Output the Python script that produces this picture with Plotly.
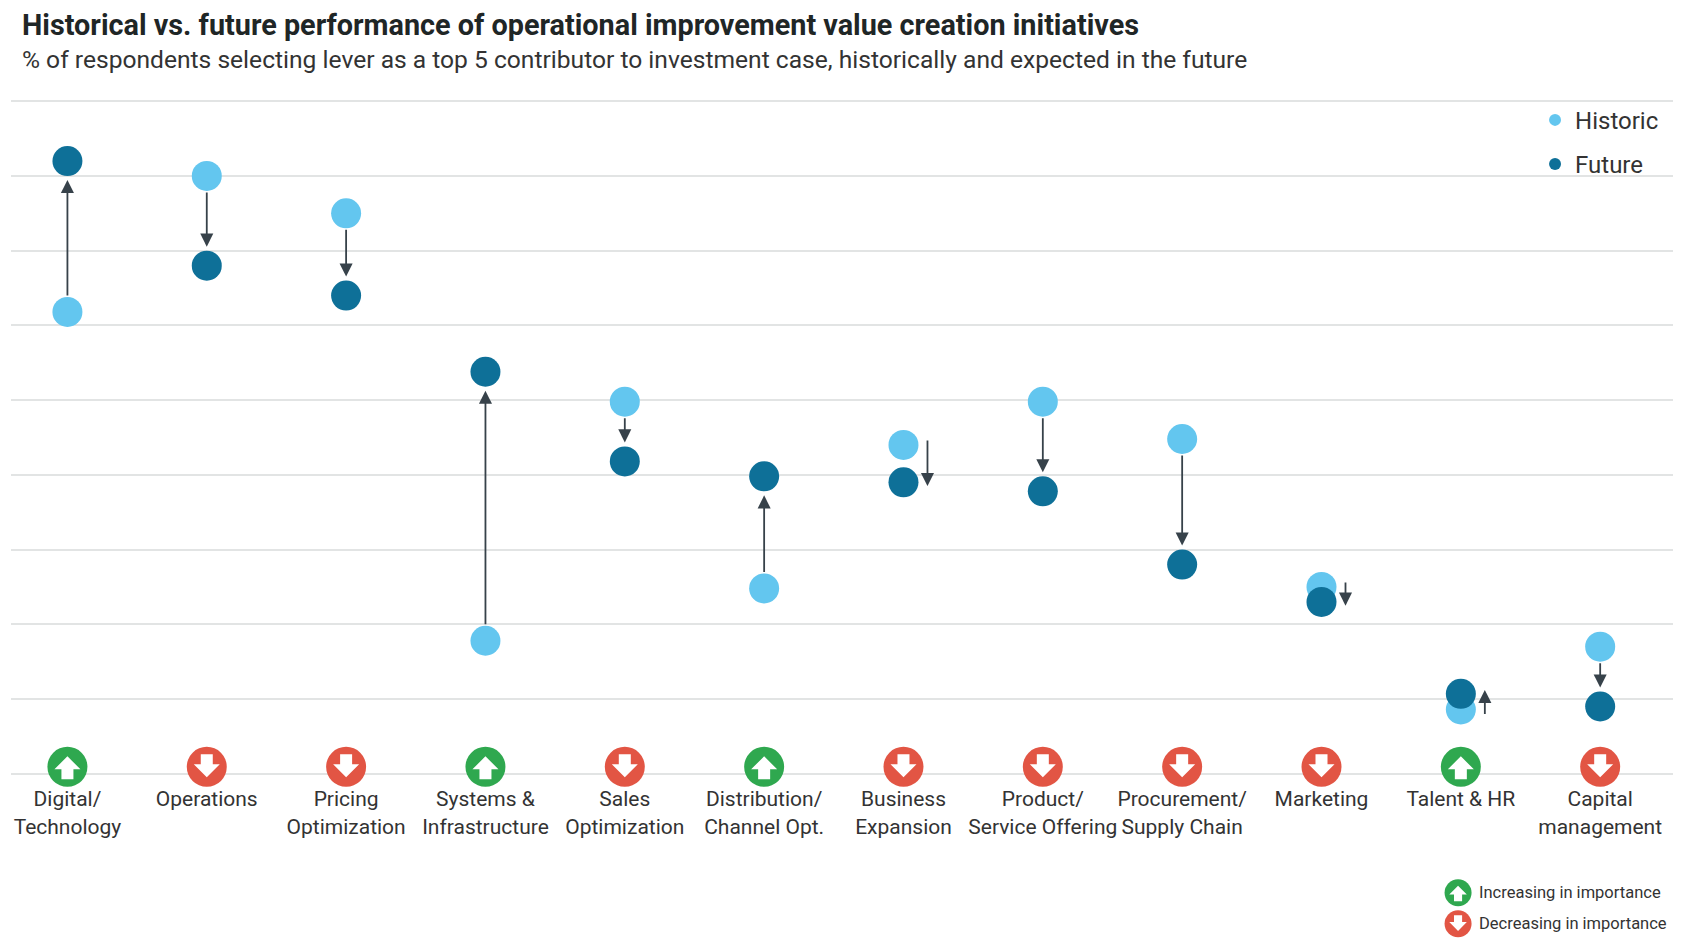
import plotly.graph_objects as go

# data
levers = ['Digital/Technology', 'Operations', 'Pricing Optimization', 'Systems & Infrastructure',
          'Sales Optimization', 'Distribution/Channel Opt.', 'Business Expansion',
          'Product/Service Offering', 'Procurement/Supply Chain', 'Marketing', 'Talent & HR',
          'Capital management']
lever_labels = ['Digital/<br>Technology', 'Operations', 'Pricing<br>Optimization',
                'Systems &<br>Infrastructure', 'Sales<br>Optimization', 'Distribution/<br>Channel Opt.',
                'Business<br>Expansion', 'Product/<br>Service Offering', 'Procurement/<br>Supply Chain',
                'Marketing', 'Talent & HR', 'Capital<br>management']
historic = [30.9, 40.0, 37.5, 8.9, 24.9, 12.4, 22.0, 24.9, 22.4, 12.5, 4.3, 8.5]
future = [41.0, 34.0, 32.0, 26.9, 20.9, 19.9, 19.5, 18.9, 14.0, 11.5, 5.35, 4.5]

LIGHT = '#63c6ef'
DARK = '#0e7098'
ARROW = '#37424a'
GREEN = '#2fa84f'
RED = '#e25544'
FONT = 'Roboto'

fig = go.Figure()
fig.add_trace(go.Scatter(x=levers, y=historic, mode='markers', name='Historic',
                         marker=dict(size=30, color=LIGHT), cliponaxis=False,
                         legendgroup='h'))
fig.add_trace(go.Scatter(x=levers, y=future, mode='markers', name='Future',
                         marker=dict(size=30, color=DARK), cliponaxis=False,
                         legendgroup='f'))


def arrow_path(scale, cy, up):
    # block arrow glyph in pixels around icon centre (positive = up)
    s = 1 if up else -1
    pts = [(0, 10.5 * s), (13, -2.5 * s), (6, -2.5 * s), (6, -12.5 * s),
           (-6, -12.5 * s), (-6, -2.5 * s), (-13, -2.5 * s)]
    return 'M' + 'L'.join('%.2f,%.2f' % (x * scale, cy + y * scale) for x, y in pts) + 'Z'


shapes = []
annotations = []
for lev, h, f in zip(levers, historic, future):
    up = f > h
    col = GREEN if up else RED
    # icon under each lever (paper y so it is not clipped at the bottom)
    shapes.append(dict(type='circle', xref='x', yref='paper', xsizemode='pixel', ysizemode='pixel',
                       xanchor=lev, yanchor=0, x0=-20, x1=20, y0=-10.8, y1=29.2,
                       fillcolor=col, line_width=0, layer='above'))
    shapes.append(dict(type='path', xref='x', yref='paper', xsizemode='pixel', ysizemode='pixel',
                       xanchor=lev, yanchor=0, path=arrow_path(1, 9.2, up),
                       fillcolor='white', line_width=0, layer='above'))
    # arrow historic -> future
    s = 1 if up else -1
    if abs(f - h) < 3:
        annotations.append(dict(x=lev, y=f + s * 0.25, ax=lev, ay=h - s * 0.4,
                                xref='x', yref='y', axref='x', ayref='y', xshift=24,
                                showarrow=True, arrowhead=2, arrowsize=1.45, arrowwidth=1.8,
                                arrowcolor=ARROW, text=''))
    else:
        annotations.append(dict(x=lev, y=f, ax=lev, ay=h, xref='x', yref='y', axref='x', ayref='y',
                                standoff=19, startstandoff=15,
                                showarrow=True, arrowhead=2, arrowsize=1.45, arrowwidth=1.8,
                                arrowcolor=ARROW, text=''))

# increasing / decreasing key
for yk, up, txt in [(-0.1725, True, 'Increasing in importance'),
                    (-0.2183, False, 'Decreasing in importance')]:
    shapes.append(dict(type='circle', xref='paper', yref='paper', xsizemode='pixel', ysizemode='pixel',
                       xanchor=0.8665, yanchor=yk, x0=-13.5, x1=13.5, y0=-13.5, y1=13.5,
                       fillcolor=GREEN if up else RED, line_width=0))
    shapes.append(dict(type='path', xref='paper', yref='paper', xsizemode='pixel', ysizemode='pixel',
                       xanchor=0.8665, yanchor=yk, path=arrow_path(0.675, 0, up),
                       fillcolor='white', line_width=0))
    annotations.append(dict(x=0.8778, y=yk, xref='paper', yref='paper', xanchor='left', yanchor='middle',
                            text=txt, showarrow=False, font=dict(size=16.5, color='#333333')))

# title and subtitle
annotations.append(dict(x=0.0054, y=1.1096, xref='paper', yref='paper', xanchor='left', yanchor='middle',
                        text='<b>Historical vs. future performance of operational improvement value creation initiatives</b>',
                        showarrow=False, font=dict(size=28.8, color='#1f2626')))
annotations.append(dict(x=0.0054, y=1.0579, xref='paper', yref='paper', xanchor='left', yanchor='middle',
                        text='% of respondents selecting lever as a top 5 contributor to investment case, historically and expected in the future',
                        showarrow=False, font=dict(size=24.6, color='#333333')))

# page has an 8px body margin, so the figure is 8px smaller and shifted accordingly
fig.update_layout(width=1673, height=935, margin=dict(l=3, r=0, t=91, b=167, autoexpand=False),
                  plot_bgcolor='white', paper_bgcolor='white',
                  font=dict(family=FONT, color='#333333'),
                  shapes=shapes, annotations=annotations,
                  legend=dict(x=0.9126, y=1.0018, xanchor='left', yanchor='top',
                              font=dict(size=24, color='#333333'), itemsizing='constant',
                              tracegroupgap=10, traceorder='grouped', bgcolor='rgba(0,0,0,0)'))
fig.update_xaxes(type='category', range=[-0.405, 11.58], showgrid=False, zeroline=False, showline=False,
                 tickvals=levers, ticktext=lever_labels, tickfont=dict(size=21, color='#333333'),
                 tickangle=0, automargin=False,
                 ticks='outside', ticklen=4, tickcolor='rgba(0,0,0,0)')
fig.update_yaxes(range=[-0.15, 45.15], dtick=5, tick0=0, showticklabels=False, zeroline=False,
                 showline=False, gridcolor='#e2e4e4', gridwidth=2, automargin=False)

fig.write_html("out.html")
